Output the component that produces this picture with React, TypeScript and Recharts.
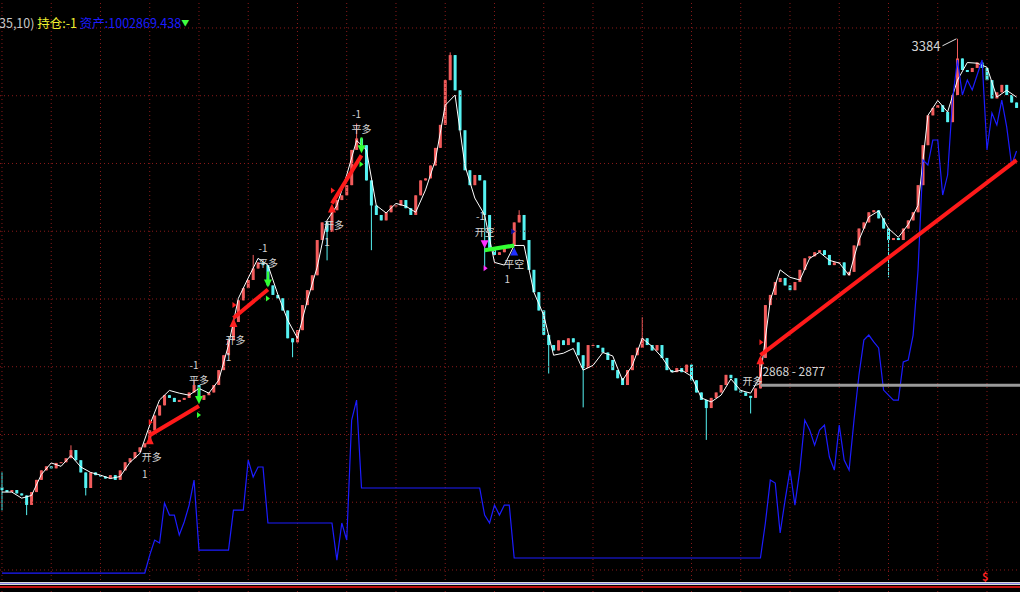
import React from "react";
import {
  ComposedChart,
  Bar,
  Line,
  XAxis,
  YAxis,
  ReferenceLine,
  ReferenceDot,
} from "recharts";

const W = 1020;
const H = 592;

// closing prices, ten bars per grid column
const closes = [
  2718, 2715, 2718, 2713, 2710, 2696, 2715, 2733, 2747, 2753,
  2750, 2758, 2759, 2765, 2777, 2762, 2744, 2721, 2744, 2740,
  2738, 2735, 2740, 2733, 2747, 2759, 2765, 2774, 2781, 2787,
  2806, 2828, 2843, 2858, 2854, 2848, 2851, 2854, 2862, 2873,
  2851, 2858, 2862, 2873, 2895, 2917, 2939, 2966, 2998, 3016,
  3028, 3045, 3054, 3050, 3020, 3006, 3001, 2983, 2942, 2936,
  2954, 2991, 3013, 3035, 3087, 3113, 3099, 3131, 3146, 3153,
  3168, 3220, 3237, 3227, 3175, 3138, 3124, 3116, 3128, 3138,
  3138, 3146, 3134, 3124, 3153, 3175, 3178, 3197, 3223, 3257,
  3323, 3360, 3308, 3249, 3190, 3168, 3183, 3175, 3124, 3075,
  3065, 3069, 3075, 3079, 3113, 3124, 3087, 3043, 3010, 2983,
  2947, 2932, 2924, 2939, 2932, 2942, 2936, 2917, 2898, 2932,
  2932, 2928, 2921, 2910, 2895, 2883, 2873, 2895, 2917, 2928,
  2942, 2932, 2924, 2932, 2913, 2895, 2892, 2898, 2892, 2903,
  2880, 2862, 2851, 2839, 2854, 2862, 2873, 2888, 2883, 2865,
  2862, 2857, 2854, 2868, 2913, 2991, 3006, 3025, 3031, 3020,
  3013, 3025, 3043, 3060, 3063, 3069, 3072, 3065, 3050, 3054,
  3054, 3035, 3040, 3079, 3104, 3113, 3128, 3131, 3119, 3104,
  3087, 3090, 3087, 3104, 3116, 3128, 3168, 3227, 3271, 3282,
  3286, 3276, 3261, 3301, 3355, 3338, 3335, 3341, 3349, 3341,
  3323, 3296, 3305, 3316, 3301, 3290, 3282,
];
const FIRST_OPEN = 2722;

// long wicks [bar, price]
const wicks: [number, number][] = [
  [0, 2744], [0, 2688], [5, 2681], [14, 2784], [17, 2710], [39, 2880],
  [51, 3065], [59, 2914], [66, 3057], [72, 3259], [75, 3072], [91, 3364],
  [98, 3043], [105, 3131], [111, 2890], [118, 2840], [130, 2973],
  [143, 2792], [152, 2831], [180, 3032], [194, 3384],
];

// white average line, every second bar
const maEven = [
  2715, 2715, 2706, 2710, 2741, 2758, 2753, 2769, 2752, 2744,
  2740, 2735, 2738, 2759, 2772, 2814, 2851, 2865, 2861, 2858,
  2868, 2861, 2880, 2932, 3001, 3031, 3060, 3050, 3007, 2969,
  2942, 2998, 3047, 3116, 3138, 3183, 3234, 3220, 3138, 3127,
  3141, 3137, 3128, 3161, 3205, 3286, 3301, 3197, 3149, 3124,
  3054, 3050, 3079, 3079, 3010, 2976, 2917, 2920, 2927, 2895,
  2902, 2921, 2916, 2880, 2902, 2942, 2930, 2914, 2892, 2895,
  2886, 2854, 2848, 2858, 2882, 2865, 2861, 2886, 2998, 3043,
  3032, 3028, 3060, 3069, 3057, 3053, 3035, 3087, 3121, 3130,
  3104, 3091, 3110, 3138, 3271, 3293, 3276, 3323, 3349, 3348,
  3342, 3298, 3308, 3298,
];

// account gain over the starting capital
const INIT_CAPITAL = 1000000;
const pnl = [
  0, 0, 0, 0, 0, 0, 0, 0, 0, 0,
  0, 0, 0, 0, 0, 0, 0, 0, 0, 0,
  0, 0, 0, 0, 0, 0, 0, 0, 0, 0,
  122, 224, 204, 476, 394, 394, 258, 347, 462, 632,
  156, 156, 156, 156, 156, 156, 156, 428, 428, 428,
  768, 653, 721, 721, 340, 340, 340, 340, 340, 340,
  340, 340, 340, 340, 340, 340, 340, 340, 88, 340,
  224, 1040, 1176, 578, 578, 578, 578, 578, 578, 578,
  578, 578, 578, 578, 578, 578, 578, 578, 578, 578,
  578, 578, 578, 578, 578, 578, 578, 578, 394, 340,
  462, 394, 462, 462, 102, 102, 102, 102, 102, 102,
  102, 102, 102, 102, 102, 102, 102, 102, 102, 102,
  102, 102, 102, 102, 102, 102, 102, 102, 102, 102,
  102, 102, 102, 102, 102, 102, 102, 102, 102, 102,
  102, 102, 102, 102, 102, 102, 102, 102, 102, 102,
  102, 102, 102, 102, 102, 340, 632, 612, 272, 496,
  700, 462, 700, 1040, 972, 870, 972, 1006, 789, 700,
  1006, 768, 700, 1040, 1346, 1584, 1618, 1571, 1530, 1244,
  1210, 1176, 1176, 1435, 1448, 1618, 2060, 2808, 2774, 2944,
  2944, 2570, 2706, 3216, 3488, 3250, 3352, 3284, 3386, 3488,
  2876, 3128, 3046, 3216, 3033, 2774, 2869,
];

const trades = [
  { side: "long", inT: 30, inP: 2799, outT: 40, outP: 2842, closed: true },
  { side: "long", inT: 47, inP: 2972, outT: 54, outP: 3014, closed: true },
  { side: "long", inT: 67, inP: 3141, outT: 73, outP: 3212, closed: true },
  { side: "short", inT: 98, inP: 3072, outT: 104, outP: 3079, closed: true },
  { side: "long", inT: 154, inP: 2917, outT: 206, outP: 3205, closed: false },
];

const zone = { from: 154, low: 2868, high: 2877 };
const peak = { t: 194, price: 3384 };

const priceTicks = [2600, 2700, 2800, 2900, 3000, 3100, 3200, 3300, 3400];
const barTicks = [0, 10, 20, 30, 40, 50, 60, 70, 80, 90, 100, 110, 120, 130, 140, 150, 160, 170, 180, 190, 200];

const RED = "#f25c5c";
const CYAN = "#55f2f2";
const GRID = "#8a1a1a";
const LABEL = "#d4d4d4";
const FONT = '"Noto Sans CJK SC", "Noto Sans", sans-serif';

const data = closes.map((c, t) => {
  const o = t === 0 ? FIRST_OPEN : closes[t - 1];
  let hi = Math.max(o, c);
  let lo = Math.min(o, c);
  wicks.forEach(([wt, p]) => {
    if (wt === t) {
      hi = Math.max(hi, p);
      lo = Math.min(lo, p);
    }
  });
  if (hi === lo) hi = lo + 0.7;
  return {
    t,
    open: o,
    close: c,
    range: [lo, hi],
    ma: t % 2 === 0 ? maEven[t / 2] : null,
    equity: INIT_CAPITAL + pnl[t],
  };
});

const Candle = (props: any) => {
  const { x, y, width, height, payload } = props;
  if (x == null || y == null) return null;
  const top = Math.min(y, y + height);
  const h = Math.abs(height);
  const [lo, hi] = payload.range;
  const k = h / (hi - lo);
  const bTop = top + (hi - Math.max(payload.open, payload.close)) * k;
  const bBot = top + (hi - Math.min(payload.open, payload.close)) * k;
  const color = payload.close >= payload.open ? RED : CYAN;
  const cx = x + width / 2;
  return (
    <g>
      <line x1={cx} x2={cx} y1={top} y2={top + h} stroke={color} strokeWidth={1} />
      <rect x={x} y={bTop} width={width} height={Math.max(1, bBot - bTop)} fill={color} />
    </g>
  );
};

const txt = (x: number, y: number, s: string, key: string, size = 10) => (
  <text
    key={key}
    x={x}
    y={y}
    fill={LABEL}
    fontSize={size}
    fontFamily={FONT}
    textAnchor="middle"
    dominantBaseline="middle"
  >
    {s}
  </text>
);

const EntryMark = ({ cx, cy, side, last }: any) => {
  if (side === "long") {
    return (
      <g>
        <polygon points={`${cx},${cy} ${cx - 4},${cy + 9} ${cx + 4},${cy + 9}`} fill="#ff2020" />
        <polygon points={`${cx - 1},${cy - 16} ${cx + 3},${cy - 13} ${cx - 1},${cy - 10}`} fill="#ff2020" />
        {txt(last ? cx - 8 : cx + 2, last ? cy + 27 : cy + 23, "开多", "a")}
        {!last && txt(cx - 5, cy + 40, "1", "b")}
      </g>
    );
  }
  return (
    <g>
      <polygon points={`${cx},${cy - 2} ${cx - 4},${cy - 10} ${cx + 4},${cy - 10}`} fill="#ff30ff" />
      <polygon points={`${cx - 1},${cy + 15} ${cx + 3},${cy + 18} ${cx - 1},${cy + 21}`} fill="#ff30ff" />
      {txt(cx - 4, cy - 33, "-1", "a")}
      {txt(cx, cy - 17, "开空", "b")}
    </g>
  );
};

const ExitMark = ({ cx, cy, side }: any) => {
  if (side === "long") {
    return (
      <g>
        <line x1={cx} x2={cx} y1={cy - 18} y2={cy - 9} stroke="#30ff30" strokeWidth={2} />
        <polygon points={`${cx},${cy - 2} ${cx - 4},${cy - 10} ${cx + 4},${cy - 10}`} fill="#30ff30" />
        <polygon points={`${cx - 2},${cy + 6} ${cx + 2},${cy + 9} ${cx - 2},${cy + 12}`} fill="#30ff30" />
        {txt(cx - 5, cy - 40, "-1", "a")}
        {txt(cx, cy - 25, "平多", "b")}
      </g>
    );
  }
  return (
    <g>
      <polygon points={`${cx},${cy + 2} ${cx - 4},${cy + 10} ${cx + 4},${cy + 10}`} fill="#2030ff" />
      <polygon points={`${cx - 3},${cy - 17} ${cx + 1},${cy - 14} ${cx - 3},${cy - 11}`} fill="#1010a0" />
      {txt(cx, cy + 20, "平空", "a")}
      {txt(cx - 7, cy + 35, "1", "b")}
    </g>
  );
};

export default function App() {
  return (
    <div
      style={{
        position: "fixed",
        left: 0,
        top: 0,
        width: W,
        height: H,
        background: "#000",
        overflow: "hidden",
        fontFamily: FONT,
      }}
    >
      <ComposedChart
        width={W}
        height={H}
        data={data}
        margin={{ top: 0, right: 0, bottom: 0, left: 0 }}
      >
        <XAxis dataKey="t" type="number" domain={[-0.4, 206.7]} hide allowDataOverflow />
        <YAxis yAxisId="price" domain={[2567.5, 3441.3]} hide allowDataOverflow />
        <YAxis yAxisId="equity" domain={[999871, 1003896]} hide allowDataOverflow />

        {barTicks.map((t) => (
          <ReferenceLine key={"v" + t} yAxisId="price" x={t} stroke={GRID} strokeDasharray="1 3" />
        ))}
        {priceTicks.map((p) => (
          <ReferenceLine key={"h" + p} yAxisId="price" y={p} stroke={GRID} strokeDasharray="1 3" />
        ))}

        <Bar
          yAxisId="price"
          dataKey="range"
          barSize={3}
          shape={<Candle />}
          isAnimationActive={false}
        />
        <Line
          yAxisId="price"
          dataKey="ma"
          stroke="#ffffff"
          strokeWidth={1}
          dot={false}
          activeDot={false}
          connectNulls
          isAnimationActive={false}
        />
        <Line
          yAxisId="equity"
          dataKey="equity"
          type="linear"
          stroke="#1c1cff"
          strokeWidth={1.2}
          dot={false}
          activeDot={false}
          isAnimationActive={false}
        />

        <ReferenceLine
          yAxisId="price"
          segment={[
            { x: zone.from, y: (zone.low + zone.high) / 2 },
            { x: 206.7, y: (zone.low + zone.high) / 2 },
          ]}
          stroke="#9a9a9a"
          strokeWidth={3}
        />

        {trades.map((tr, i) => (
          <ReferenceLine
            key={"tr" + i}
            yAxisId="price"
            segment={[
              { x: tr.inT, y: tr.inP },
              { x: tr.outT, y: tr.outP },
            ]}
            stroke={tr.side === "long" ? "#ff1a1a" : "#33ff33"}
            strokeWidth={4}
          />
        ))}

        {trades.map((tr, i) => (
          <ReferenceDot
            key={"in" + i}
            yAxisId="price"
            x={tr.inT}
            y={tr.inP}
            r={3}
            shape={(p: any) => (
              <EntryMark cx={p.cx} cy={p.cy} side={tr.side} last={!tr.closed} />
            )}
          />
        ))}
        {trades
          .filter((tr) => tr.closed)
          .map((tr, i) => (
            <ReferenceDot
              key={"out" + i}
              yAxisId="price"
              x={tr.outT}
              y={tr.outP}
              r={3}
              shape={(p: any) => <ExitMark cx={p.cx} cy={p.cy} side={tr.side} />}
            />
          ))}

        <ReferenceDot
          yAxisId="price"
          x={zone.from}
          y={(zone.low + zone.high) / 2}
          r={2}
          shape={(p: any) => (
            <text
              x={p.cx + 2}
              y={p.cy - 13}
              fill={LABEL}
              fontSize={12}
              fontFamily={FONT}
              dominantBaseline="middle"
            >
              {`${zone.low} - ${zone.high}`}
            </text>
          )}
        />
        <ReferenceDot
          yAxisId="price"
          x={peak.t}
          y={peak.price}
          r={2}
          shape={(p: any) => (
            <g>
              <line x1={p.cx - 1} y1={p.cy} x2={p.cx - 15} y2={p.cy + 7} stroke="#e0e0e0" strokeWidth={1} />
              <text
                x={p.cx - 17}
                y={p.cy + 9}
                fill={LABEL}
                fontSize={13}
                fontFamily={FONT}
                textAnchor="end"
                dominantBaseline="middle"
              >
                {peak.price}
              </text>
            </g>
          )}
        />
      </ComposedChart>

      <div
        style={{
          position: "absolute",
          left: -1,
          top: 15,
          fontSize: 12.5,
          whiteSpace: "nowrap",
          lineHeight: "16px",
        }}
      >
        <span style={{ color: "#c8c8c8" }}>35,10) </span>
        <span style={{ color: "#f0f030" }}>持仓:-1 </span>
        <span style={{ color: "#1c1cff" }}>资产:1002869.438</span>
        <span style={{ color: "#40ff40", fontSize: 8, verticalAlign: "2px" }}>▼</span>
      </div>

      <div style={{ position: "absolute", left: 0, top: 582, width: W, height: 1, background: "#d8d8d8" }} />
      <div style={{ position: "absolute", left: 0, top: 583, width: W, height: 1, background: "#8080e0" }} />
      <div style={{ position: "absolute", left: 0, top: 584, width: W, height: 1, background: "#d8d8d8" }} />
      <div style={{ position: "absolute", left: 0, top: 586, width: W, height: 2, background: "#c01010" }} />
      <div
        style={{
          position: "absolute",
          left: 982,
          top: 569,
          color: "#ff2020",
          fontSize: 11,
          fontWeight: "bold",
          lineHeight: "14px",
        }}
      >
        $
      </div>
    </div>
  );
}
